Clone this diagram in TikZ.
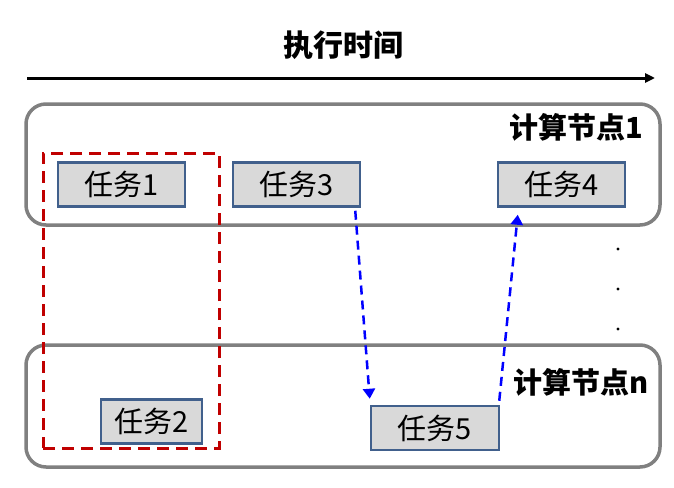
\documentclass[tikz,border=0pt]{standalone}
\usepackage{fontspec}
\setmainfont{Noto Sans CJK SC}
\usetikzlibrary{arrows.meta, calc}
\definecolor{taskfill}{HTML}{D9D9D9}
\definecolor{taskline}{HTML}{41608C}
\definecolor{nodegray}{HTML}{808080}
\definecolor{groupred}{HTML}{C00000}
\definecolor{depblue}{HTML}{0000FF}

\begin{document}
\begin{tikzpicture}[
    x=1pt, y=-1pt,
    compnode/.style={draw=nodegray, line width=3.5pt, rounded corners=20pt, inner sep=0pt},
    task/.style={draw=taskline, fill=taskfill, line width=2.5pt, minimum width=127pt, minimum height=44pt, inner sep=0pt, font=\fontsize{29}{29}\selectfont},
    nodelabel/.style={anchor=east, font=\fontsize{29}{29}\selectfont\bfseries},
    group/.style={draw=groupred, line width=3pt, dash pattern=on 12pt off 7pt, inner sep=0pt},
    dep/.style={draw=depblue, line width=2.5pt, dash pattern=on 9pt off 6pt, -{Triangle[length=10pt, width=12pt]}},
]
\useasboundingbox (0,0) rectangle (674,487);

% time axis
\node[font=\fontsize{30}{30}\selectfont\bfseries] (title) at (343,45) {执行时间};
\coordinate (tstart) at (27,78);
\coordinate (tend) at (655,78);
\draw[line width=3pt, -{Triangle[length=10pt, width=9pt]}] (tstart) -- (tend);

% compute nodes
\node[compnode, minimum width=634pt, minimum height=121pt] (cn1) at (343,164.5) {};
\node[compnode, minimum width=634pt, minimum height=122pt] (cnn) at (343,406) {};
\node[nodelabel] (cn1lbl) at (647,127) {计算节点1};
\node[nodelabel] (cnnlbl) at (652,382) {计算节点n};
\foreach \y in {249,289,329}
  \fill (618,\y) circle (1.6);

% tasks
\node[group, minimum width=176pt, minimum height=295pt] (grp) at (131,300.5) {};
\node[task] (task1) at (121.5,184.5) {任务1};
\node[task] (task3) at (296.5,184.5) {任务3};
\node[task] (task4) at (561.5,184.5) {任务4};
\node[task, minimum width=101pt] (task2) at (151.5,421.5) {任务2};
\node[task, minimum width=128pt] (task5) at (435,428) {任务5};

\draw[dep] ($(task3.south east)+(-6,3)$) -- ($(task5.north west)+(0,-6)$);
\draw[dep] ($(task5.north east)+(-1,-4)$) -- ($(task4.south west)+(21,7)$);
\end{tikzpicture}
\end{document}
